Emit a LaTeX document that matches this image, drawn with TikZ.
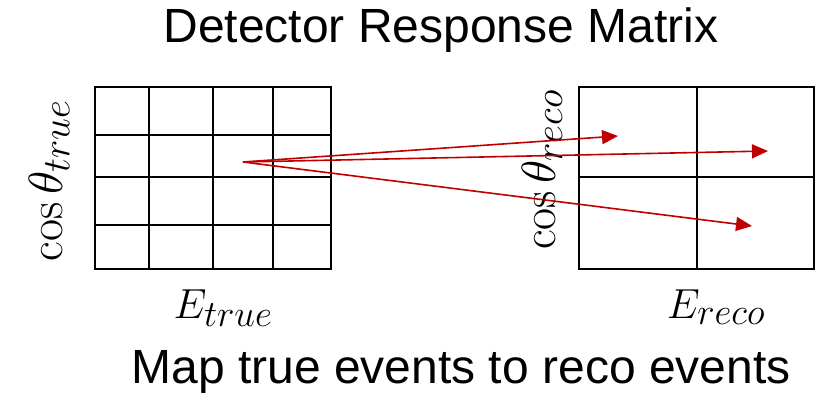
\RequirePackage{fix-cm}
\documentclass[tikz,border=0pt]{standalone}
\usepackage{fontspec}
\setsansfont{Liberation Sans}
\DeclareMathSizes{42}{42}{37}{26}
\DeclareMathSizes{48}{48}{39}{28}
\usetikzlibrary{arrows.meta}
\definecolor{arrred}{HTML}{C00000}
\begin{document}
\begin{tikzpicture}[x=1pt,y=-1pt,
  thickgrid/.style={line width=2pt,black},
  thingrid/.style={line width=1.6pt,black},
  maparrow/.style={arrred,line width=1.6pt,-{Triangle[length=16pt,width=14pt]}},
  bigtext/.style={font=\sffamily\fontsize{48}{56}\selectfont,anchor=base,inner sep=0pt},
  mathlabel/.style={font=\fontsize{42}{50}\selectfont,anchor=base,inner sep=0pt},
  axislabel/.style={font=\fontsize{48}{56}\selectfont,anchor=base,inner sep=0pt,rotate=90}]
\useasboundingbox (0,0) rectangle (818,395);
% title and caption
\node[bigtext] (title) at (441,43) {Detector Response Matrix};
\node[bigtext] (caption) at (461,383) {Map true events to reco events};
% left grid (4x4)
\draw[thickgrid] (95,87) rectangle (331,269);
\foreach \x in {149,213,273} \draw[thickgrid] (\x,87) -- (\x,269);
\foreach \y in {135,177,225} \draw[thickgrid] (95,\y) -- (331,\y);
% right grid (2x2)
\draw[thingrid] (579,87) rectangle (814,269);
\draw[thingrid] (697,87) -- (697,269);
\draw[thingrid] (579,177) -- (814,177);
% labels
\node[mathlabel] (etrue) at (223,318) {$E_{true}$};
\node[mathlabel] (ereco) at (716,318) {$E_{reco}$};
\node[axislabel] (ctrue) at (62,181) {$\cos\theta_{true}$};
\node[axislabel] (creco) at (555,170) {$\cos\theta_{reco}$};
% arrows
\coordinate (src) at (243,162);
\coordinate (t1) at (618,136);
\coordinate (t2) at (768,151);
\coordinate (t3) at (752,226);
\draw[maparrow] (src) -- (t1);
\draw[maparrow] (src) -- (t2);
\draw[maparrow] (src) -- (t3);
\end{tikzpicture}
\end{document}
